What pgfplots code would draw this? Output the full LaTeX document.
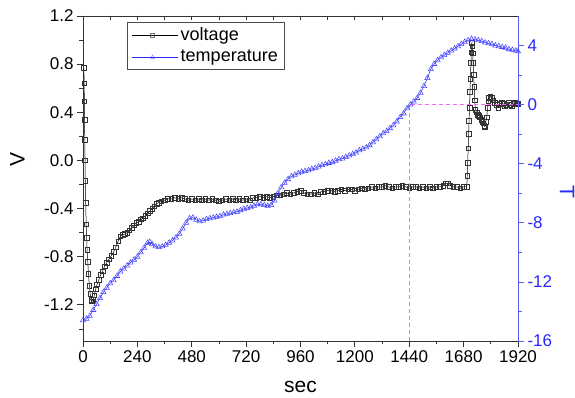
\documentclass[border=0pt]{standalone}
\usepackage{fontspec}
\setmainfont{Liberation Sans}
\usepackage{pgfplots}
\pgfplotsset{compat=1.18}

\definecolor{tblue}{RGB}{40,40,255}
\definecolor{axblue}{RGB}{90,90,255}
\definecolor{dashmag}{RGB}{255,100,255}

\pgfplotsset{
  vstyle/.style={black, line width=0.5pt, mark=square, mark size=2.3pt,
    mark options={draw=black!80, line width=0.55pt, solid}},
  tstyle/.style={tblue, line width=0.5pt, mark=triangle, mark size=3pt,
    mark options={draw=tblue!85!white, line width=0.55pt, solid}},
  vlegend/.style={legend image code/.code={
      \draw[black!75, line width=0.5pt] (0pt,0pt) -- (14pt,0pt);
      \draw[black!75, line width=0.5pt] (26pt,0pt) -- (40pt,0pt);
      \draw[black!55, line width=0.4pt] (18pt,-2pt) rectangle (22pt,2pt);
      \path (0pt,0pt) -- (46pt,0pt);}},
  tlegend/.style={legend image code/.code={
      \draw[tblue, line width=0.5pt] (0pt,0pt) -- (14pt,0pt);
      \draw[tblue, line width=0.5pt] (26pt,0pt) -- (40pt,0pt);
      \draw[tblue!60!white, line width=0.4pt] (18pt,-1.6pt) -- (22pt,-1.6pt) -- (20pt,2pt) -- cycle;
      \path (0pt,0pt) -- (46pt,0pt);}},
  base/.style={scale only axis, width=435pt, height=325pt,
    xmin=0, xmax=1920,
    ticklabel style={font=\fontsize{17}{17}\selectfont},
    /pgf/number format/assume math mode=true,
    /pgf/number format/1000 sep={},
    major tick length=6pt, minor tick length=3.5pt,
    every tick/.style={line width=0.8pt},
    label style={font=\fontsize{21}{21}\selectfont}},
}

\begin{document}
\begin{tikzpicture}
% left axis: voltage
\begin{axis}[base,
  ymin=-1.5, ymax=1.2,
  xtick={0,240,...,1920}, minor x tick num=1,
  ytick={-1.2,-0.8,-0.4,0,0.4,0.8,1.2},
  minor ytick={-1.4,-1.0,-0.6,-0.2,0.2,0.6,1.0},
  yticklabel style={/pgf/number format/.cd, fixed, fixed zerofill, precision=1},
  tick align=outside, xtick pos=bottom, ytick pos=left,
  axis line style={black!80, line width=0.9pt},
  every tick/.append style={black!80},
  xlabel={sec}, ylabel={V},
  xlabel style={at={(axis description cs:0.5,-0.141)}, anchor=center},
  ylabel style={at={(axis description cs:-0.151,0.557)}, anchor=center},
]
\addplot[vstyle] coordinates {
(4,0.77)(5,0.64)(6,0.49)(7,0.34)(8,0.17)(9,0.0)(10,-0.17)(12,-0.35)(14,-0.53)
(16,-0.64)(18,-0.74)(21,-0.84)(24,-0.94)(28,-1.04)(32,-1.11)(36,-1.16)(40,-1.17)
(45,-1.16)(50,-1.12)(56,-1.07)(62,-1.03)(70,-0.99)(78,-0.95)(86,-0.92)(95,-0.88)
(105,-0.85)(115,-0.82)(125,-0.79)(135,-0.76)(145,-0.72)(155,-0.67)(165,-0.63)
(175,-0.62)(185,-0.61)(195,-0.60)(205,-0.58)(215,-0.56)(225,-0.54)(235,-0.52)
(245,-0.51)(255,-0.49)(265,-0.48)(275,-0.46)(285,-0.44)(295,-0.42)(305,-0.40)
(315,-0.38)(325,-0.36)(335,-0.35)(345,-0.34)(360,-0.33)(375,-0.32)(390,-0.32)
(405,-0.31)(420,-0.32)(435,-0.31)(450,-0.32)(465,-0.33)(480,-0.32)(495,-0.33)
(510,-0.32)(525,-0.33)(540,-0.32)(555,-0.33)(570,-0.32)(585,-0.33)(600,-0.34)
(615,-0.33)(630,-0.32)(645,-0.33)(660,-0.32)(675,-0.33)(690,-0.32)(705,-0.33)
(720,-0.32)(735,-0.33)(750,-0.31)(765,-0.31)(780,-0.30)(795,-0.31)(810,-0.30)
(825,-0.31)(840,-0.30)(855,-0.29)(870,-0.29)(885,-0.28)(900,-0.27)(915,-0.28)
(930,-0.27)(945,-0.26)(960,-0.25)(975,-0.27)(990,-0.28)(1005,-0.28)(1020,-0.27)
(1035,-0.28)(1050,-0.26)(1065,-0.26)(1080,-0.25)(1095,-0.25)(1110,-0.26)
(1125,-0.25)(1140,-0.24)(1155,-0.25)(1170,-0.24)(1185,-0.24)(1200,-0.25)
(1215,-0.24)(1230,-0.23)(1245,-0.24)(1260,-0.23)(1275,-0.22)(1290,-0.23)
(1305,-0.22)(1320,-0.22)(1335,-0.21)(1350,-0.22)(1365,-0.23)(1380,-0.22)
(1395,-0.22)(1410,-0.21)(1425,-0.22)(1440,-0.23)(1455,-0.22)(1470,-0.22)
(1485,-0.23)(1500,-0.22)(1515,-0.23)(1530,-0.22)(1545,-0.23)(1560,-0.22)
(1575,-0.22)(1590,-0.21)(1600,-0.19)(1610,-0.19)(1620,-0.21)(1635,-0.22)
(1650,-0.22)(1665,-0.23)(1680,-0.22)(1694,-0.22)
(1696,-0.125)(1698,-0.02)(1700,0.10)(1702,0.22)(1704,0.33)(1706,0.44)(1708,0.57)
(1710,0.68)(1712,0.81)(1714,0.90)(1716,0.98)(1718,0.95)(1720,0.89)(1722,0.81)
(1724,0.71)(1727,0.61)(1729,0.50)(1732,0.42)(1737,0.40)(1742,0.38)(1747,0.37)
(1752,0.36)(1757,0.34)(1762,0.32)(1767,0.31)(1771,0.29)(1774,0.28)(1778,0.32)
(1782,0.36)(1786,0.44)(1789,0.49)(1792,0.52)(1798,0.53)(1804,0.52)(1811,0.50)
(1818,0.48)(1825,0.46)(1833,0.44)(1840,0.47)(1848,0.48)(1855,0.47)(1862,0.45)
(1870,0.46)(1878,0.48)(1885,0.46)(1892,0.45)(1900,0.47)(1907,0.48)(1914,0.47)
(1920,0.47)
};
\end{axis}

% top axis: inward ticks only
\begin{axis}[base,
  ymin=-1.5, ymax=1.2,
  axis x line*=top, hide y axis,
  xtick={0,240,...,1920}, minor x tick num=1,
  xticklabels={}, tick align=inside,
  major tick length=4pt, minor tick length=4pt,
  axis line style={black!80, line width=0.9pt},
  every tick/.append style={black!80},
]
\end{axis}

% right axis: temperature
\begin{axis}[base,
  ymin=-16, ymax=6,
  axis y line*=right, axis x line=none,
  ytick={-16,-12,-8,-4,0,4},
  minor ytick={-14,-10,-6,-2,2},
  tick align=outside,
  y axis line style={axblue, line width=0.9pt},
  every tick/.append style={axblue},
  yticklabel style={tblue},
  ylabel={T},
  ylabel style={tblue, rotate=180, at={(axis description cs:1.1126,0.458)}, anchor=center},
  legend style={at={(axis description cs:0.101,0.982)}, anchor=north west,
    draw=black!70, line width=0.6pt, font=\fontsize{18}{18}\selectfont,
    inner xsep=5pt, inner ysep=3.5pt, row sep=4pt, cells={anchor=west}},
]
\addlegendimage{vstyle, vlegend}
\addlegendentry{voltage}
\addplot[tstyle, tlegend] coordinates {
(0,-14.6)(15,-14.5)(30,-14.3)(45,-13.9)(60,-13.5)(75,-13.1)(90,-12.7)(105,-12.4)
(120,-12.1)(135,-11.9)(150,-11.6)(165,-11.3)(180,-11.1)(195,-10.9)(210,-10.7)
(225,-10.5)(240,-10.3)(255,-10.0)(270,-9.7)(285,-9.35)(295,-9.3)(305,-9.45)
(320,-9.6)(335,-9.65)(350,-9.6)(365,-9.5)(380,-9.35)(395,-9.2)(410,-9.0)
(425,-8.75)(440,-8.4)(455,-8.0)(470,-7.7)(485,-7.65)(500,-7.8)(515,-7.9)
(530,-7.85)(545,-7.75)(560,-7.7)(575,-7.65)(590,-7.6)(605,-7.55)(620,-7.45)
(635,-7.4)(650,-7.35)(665,-7.3)(680,-7.25)(695,-7.15)(710,-7.05)(725,-7.0)
(740,-6.95)(755,-6.85)(770,-6.75)(785,-6.75)(800,-6.8)(815,-6.85)(830,-6.8)
(845,-6.5)(860,-6.0)(875,-5.6)(890,-5.3)(905,-5.05)(920,-4.85)(935,-4.75)
(950,-4.65)(965,-4.55)(980,-4.5)(995,-4.45)(1010,-4.35)(1025,-4.3)(1040,-4.2)
(1055,-4.1)(1070,-4.05)(1085,-3.95)(1100,-3.9)(1115,-3.8)(1130,-3.7)(1145,-3.65)
(1160,-3.55)(1175,-3.45)(1190,-3.35)(1205,-3.25)(1220,-3.1)(1235,-3.0)(1250,-2.9)
(1265,-2.75)(1280,-2.55)(1295,-2.35)(1310,-2.15)(1325,-1.95)(1340,-1.8)(1355,-1.6)
(1370,-1.4)(1385,-1.15)(1400,-0.85)(1415,-0.6)(1430,-0.25)(1445,0.0)(1460,0.2)
(1475,0.45)(1490,0.8)(1505,1.25)(1520,1.8)(1535,2.4)(1550,2.75)(1565,3.0)
(1580,3.2)(1595,3.35)(1610,3.5)(1625,3.65)(1640,3.8)(1655,3.95)(1670,4.1)
(1685,4.25)(1700,4.35)(1715,4.45)(1730,4.4)(1745,4.35)(1760,4.3)(1775,4.2)
(1790,4.15)(1805,4.1)(1820,4.0)(1835,3.95)(1850,3.9)(1865,3.85)(1880,3.75)
(1895,3.7)(1910,3.65)(1920,3.6)
};
\addlegendentry{temperature}
% guide at T = 0
\addplot[color=dashmag, dash pattern=on 4pt off 3pt, line width=1.5pt, mark=none, forget plot]
  coordinates {(1440,-16) (1440,0) (1920,0)};
\end{axis}
\pgfresetboundingbox
\useasboundingbox (-83pt,-57pt) rectangle (492pt,341pt);
\end{tikzpicture}
\end{document}
